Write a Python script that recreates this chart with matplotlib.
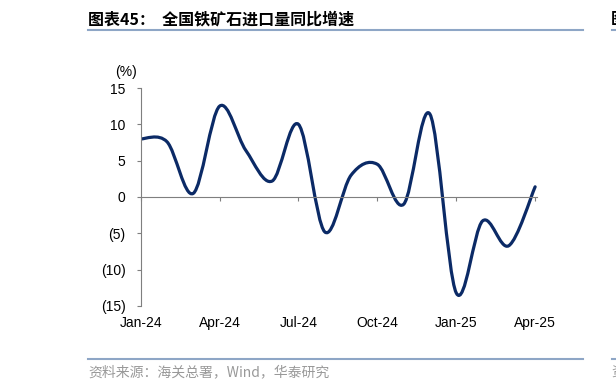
import matplotlib
matplotlib.use("Agg")
import matplotlib.pyplot as plt
import numpy as np
from matplotlib.lines import Line2D
from matplotlib.patches import PathPatch
from matplotlib.path import Path

plt.rcParams["font.family"] = ["Liberation Sans", "DejaVu Sans"]

# monthly yoy growth of iron ore imports, Jan-24 .. Apr-25 (%)
months = ["Jan-24", "Feb-24", "Mar-24", "Apr-24", "May-24", "Jun-24", "Jul-24", "Aug-24",
          "Sep-24", "Oct-24", "Nov-24", "Dec-24", "Jan-25", "Feb-25", "Mar-25", "Apr-25"]
growth = [8.0, 7.6, 0.5, 12.5, 6.4, 2.2, 10.0, -4.8, 3.0, 4.5, -1.0, 11.4, -13.2, -3.3, -6.7, 1.4]
tick_idx = [0, 3, 6, 9, 12, 15]
y_ticks = [15, 10, 5, 0, -5, -10, -15]
y_labels = ["15", "10", "5", "0", "(5)", "(10)", "(15)"]

title = "图表45：  全国铁矿石进口量同比增速"
source = "资料来源：海关总署，Wind，华泰研究"
CJK = ["Noto Sans CJK SC", "DejaVu Sans"]


def smooth_path(xs, ys):
    # excel-style smoothed line: cubic bezier through every point
    pts = np.column_stack([xs, ys]).astype(float)
    n = len(pts)
    verts = [pts[0]]
    codes = [Path.MOVETO]
    for i in range(n - 1):
        p0 = pts[max(i - 1, 0)]
        p1 = pts[i]
        p2 = pts[i + 1]
        p3 = pts[min(i + 2, n - 1)]
        verts += [p1 + (p2 - p0) / 6, p2 - (p3 - p1) / 6, p2]
        codes += [Path.CURVE4] * 3
    return Path(verts, codes)


W, H = 616, 389
fig = plt.figure(figsize=(W / 100, H / 100), dpi=100)
ax = fig.add_axes([140.7 / W, 1 - 306 / H, 396 / W, 218 / H])

x = np.arange(len(months))
ax.add_patch(PathPatch(smooth_path(x, growth), facecolor="none", edgecolor="#0b2a66",
                       lw=2.3, capstyle="round", joinstyle="round"))

ax.set_xlim(0, 15.06)
ax.set_ylim(-15, 15)

axis_col = "#7f7f7f"
for s in ["top", "right"]:
    ax.spines[s].set_visible(False)
ax.spines["left"].set_color(axis_col)
ax.spines["bottom"].set_color(axis_col)
ax.spines["bottom"].set_position(("data", 0))

ax.set_yticks(y_ticks)
ax.set_yticklabels(y_labels)
ax.tick_params(axis="y", direction="out", length=3, width=0.8, color=axis_col,
               labelsize=10, pad=8, labelcolor="#000000")
ax.set_xticks(tick_idx)
ax.tick_params(axis="x", direction="out", length=3, width=0.8, color=axis_col, labelbottom=False)

sec = ax.secondary_xaxis(0)
sec.set_xticks(tick_idx)
sec.set_xticklabels([months[i] for i in tick_idx])
sec.tick_params(length=0, labelsize=10, pad=7)
sec.spines["bottom"].set_visible(False)

ax.text(126 / W, 1 - 72 / H, "(%)", transform=fig.transFigure, ha="center", va="center", fontsize=10)

# header / footer
fig.text(88 / W, 1 - 19 / H, title, family=CJK, fontweight="bold", fontsize=11.5, ha="left", va="center")
fig.text(611 / W, 1 - 19 / H, "图", family=CJK, fontweight="bold", fontsize=11.5, ha="left", va="center")
rule_col = "#8ea6c6"
for yy in [29.5, 359]:
    fig.add_artist(Line2D([88 / W, 582.7 / W], [1 - yy / H] * 2, color=rule_col, lw=1.5))
    fig.add_artist(Line2D([611.7 / W, 1.0], [1 - yy / H] * 2, color=rule_col, lw=1.5))
fig.text(88 / W, 1 - 372 / H, source, family=CJK, fontsize=10, color="#999999", ha="left", va="center")
fig.text(611 / W, 1 - 372 / H, "资", family=CJK, fontsize=10, color="#999999", ha="left", va="center")

fig.savefig("out.png", dpi=100, facecolor="white")
